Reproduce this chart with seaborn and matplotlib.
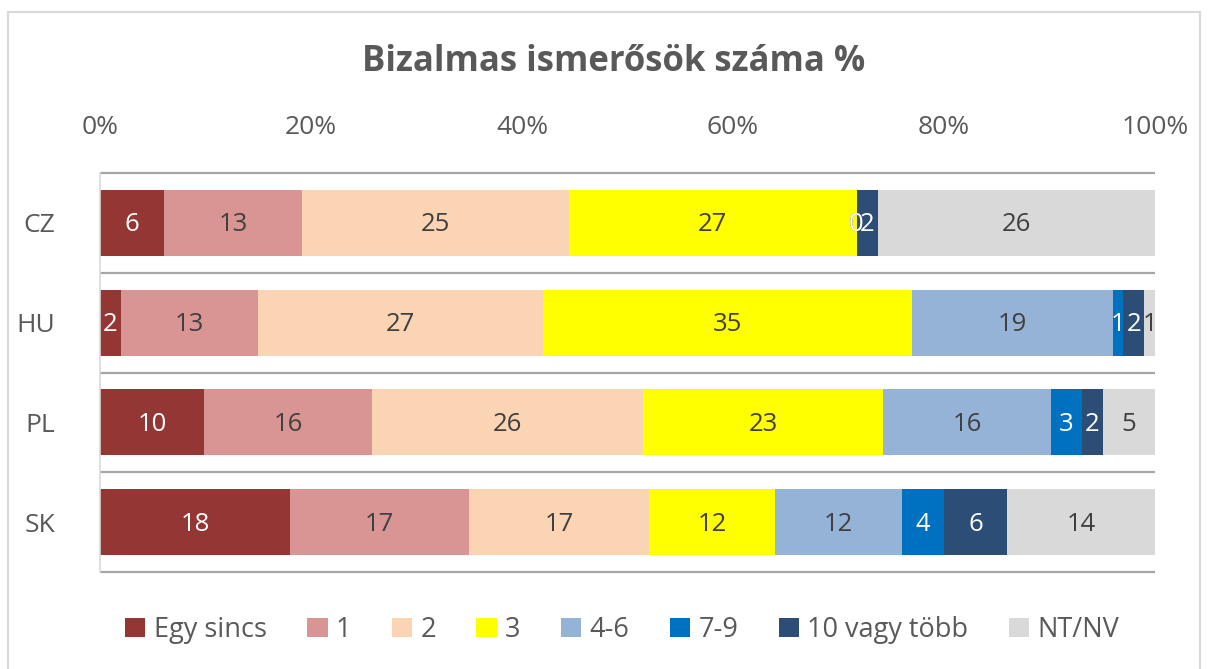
import matplotlib
matplotlib.use("Agg")
import matplotlib.pyplot as plt
from matplotlib.patches import Rectangle, Patch
import numpy as np
import pandas as pd
import seaborn as sns

# Adatok
countries = ["CZ", "HU", "PL", "SK"]
groups = ["Egy sincs", "1", "2", "3", "4-6", "7-9", "10 vagy több", "NT/NV"]
egy_sincs = [6, 2, 10, 18]
egy = [13, 13, 16, 17]
ketto = [25, 27, 26, 17]
harom = [27, 35, 23, 12]
negy_hat = [0, 19, 16, 12]
het_kilenc = [0, 1, 3, 4]
tiz_tobb = [2, 2, 2, 6]
nt_nv = [26, 1, 5, 14]

colors = ["#943634", "#D99594", "#FBD4B4", "#FFFF00",
          "#95B3D7", "#0070C0", "#2C4D75", "#D9D9D9"]
label_colors = ["white", "#404040", "#404040", "#404040",
                "#404040", "white", "white", "#404040"]

sns.set_theme(style="white")
plt.rcParams["font.family"] = ["Open Sans", "DejaVu Sans"]
text_col = "#595959"

df = pd.DataFrame(
    np.array([egy_sincs, egy, ketto, harom, negy_hat, het_kilenc, tiz_tobb, nt_nv]).T,
    index=countries, columns=groups)
pct = df.div(df.sum(axis=1), axis=0) * 100
cum = pct.cumsum(axis=1)

fig = plt.figure(figsize=(12.08, 6.69), dpi=100)
ax = fig.add_axes([100 / 1208, 1 - 572 / 669, 1055 / 1208, 399 / 669])

# halmozott sávok: a kumulált összegeket hátulról előre rajzoljuk
for i in range(len(groups) - 1, -1, -1):
    g = groups[i]
    sns.barplot(x=cum[g].values, y=countries, orient="h", color=colors[i],
                width=0.66, saturation=1, ax=ax, linewidth=0)

# adatfeliratok
for r, c in enumerate(countries):
    for i, g in enumerate(groups):
        val = df.loc[c, g]
        center = cum.loc[c, g] - pct.loc[c, g] / 2
        ax.text(center, r + 0.02, f"{val}", ha="center", va="center",
                fontsize=18.5, color=label_colors[i])

ax.set_xlim(0, 100)
ax.set_ylim(3.5, -0.5)
ax.xaxis.tick_top()
ax.set_xticks([0, 20, 40, 60, 80, 100])
ax.set_xticklabels([f"{t}%" for t in [0, 20, 40, 60, 80, 100]])
ax.tick_params(axis="x", length=0, pad=24, labelsize=19, labelcolor=text_col)
ax.tick_params(axis="y", length=0, pad=32, labelsize=19, labelcolor=text_col)
ax.set_xlabel("")
ax.set_ylabel("")

for s in ["top", "right", "bottom"]:
    ax.spines[s].set_visible(False)
ax.spines["left"].set_color("#D9D9D9")
ax.spines["left"].set_linewidth(1.2)
ax.hlines([-0.5, 0.5, 1.5, 2.5, 3.5], 0, 100, color="#A6A6A6", lw=1.6, zorder=0.5,
          clip_on=False)

fig.text(0.508, 1 - 62 / 669, "Bizalmas ismerősök száma %", ha="center", va="center",
         fontsize=25, fontweight="bold", color=text_col)

handles = [Patch(facecolor=colors[i], edgecolor="none", label=groups[i])
           for i in range(len(groups))]
fig.legend(handles=handles, loc="center", bbox_to_anchor=(0.515, 1 - 630 / 669),
           ncol=8, frameon=False, fontsize=19.5, labelcolor=text_col,
           handlelength=0.75, handleheight=0.75, handletextpad=0.3, columnspacing=1.5)

fig.patches.append(Rectangle((8 / 1208, -0.02), 1192 / 1208, 1 - 12 / 669 + 0.02,
                             transform=fig.transFigure, fill=False,
                             edgecolor="#D9D9D9", lw=1.5))

fig.savefig("out.png", dpi=100)
